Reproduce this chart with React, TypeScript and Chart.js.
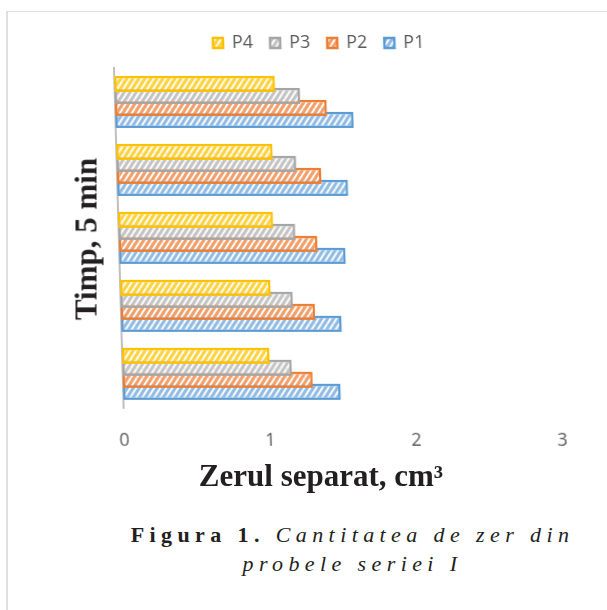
import React, { useEffect, useRef } from 'react';
import { Chart, registerables } from 'chart.js';

Chart.register(...registerables);

// Categories listed from top group to bottom group (Excel puts the first category at the bottom)
const categories = ['5', '4', '3', '2', '1'];
const seriesNames = ['P4', 'P3', 'P2', 'P1'];
const p4Values = [1.10, 1.07, 1.06, 1.03, 1.01];
const p3Values = [1.27, 1.23, 1.21, 1.18, 1.16];
const p2Values = [1.45, 1.40, 1.36, 1.33, 1.30];
const p1Values = [1.63, 1.58, 1.55, 1.51, 1.49];
const xTickValues = [0, 1, 2, 3];

const lineColors = ['#FFC000', '#A5A5A5', '#ED7D31', '#5B9BD5'];
const tintColors = ['#FFD23F', '#C4C4C4', '#F3A06C', '#92BBE3'];

function makePattern(tint: string) {
  const w = 6;
  const h = 9;
  const c = document.createElement('canvas');
  c.width = w;
  c.height = h;
  const g = c.getContext('2d') as CanvasRenderingContext2D;
  g.fillStyle = tint;
  g.fillRect(0, 0, w, h);
  g.strokeStyle = '#ffffff';
  g.lineWidth = 1.9;
  g.beginPath();
  g.moveTo(0, h);
  g.lineTo(w, 0);
  g.moveTo(-w, h);
  g.lineTo(0, 0);
  g.moveTo(w, h);
  g.lineTo(2 * w, 0);
  g.stroke();
  return g.createPattern(c, 'repeat') as CanvasPattern;
}

const legendGap = {
  id: 'legendGap',
  afterInit(chart: any) {
    const lg = chart.legend;
    if (lg && !lg.__gap) {
      const orig = lg.fit;
      lg.fit = function () {
        orig.call(this);
        this.height += 6;
      };
      lg.__gap = true;
    }
  },
};

export default function App() {
  const ref = useRef<HTMLCanvasElement | null>(null);

  useEffect(() => {
    if (!ref.current) return;
    const allValues = [p4Values, p3Values, p2Values, p1Values];
    const datasets = seriesNames.map((name, i) => ({
      label: name,
      data: allValues[i],
      backgroundColor: makePattern(tintColors[i]),
      borderColor: lineColors[i],
      borderWidth: 2.5,
      borderSkipped: false,
      barPercentage: 1.33,
      categoryPercentage: 0.706,
    }));
    const tickFont = { family: 'Open Sans', size: 18 };
    const chart = new Chart(ref.current, {
      type: 'bar',
      data: { labels: categories, datasets },
      options: {
        indexAxis: 'y',
        animation: false,
        responsive: false,
        maintainAspectRatio: false,
        layout: { padding: { left: 97, right: 45, top: 17, bottom: 0 } },
        plugins: {
          legend: {
            position: 'top',
            labels: {
              boxWidth: 10,
              boxHeight: 10,
              padding: 17,
              color: '#595959',
              font: tickFont,
            },
          },
          tooltip: { enabled: false },
        },
        scales: {
          x: {
            min: 0,
            max: 3,
            afterBuildTicks: (s: any) => {
              s.ticks = xTickValues.map((v) => ({ value: v }));
            },
            ticks: { padding: 22, color: '#595959', font: tickFont },
            grid: { display: false, drawTicks: false },
            border: { display: false },
            afterFit: (s: any) => {
              s.height = 52;
            },
          },
          y: {
            ticks: { display: false },
            grid: { display: false, drawTicks: false },
            border: { display: true, color: '#BFBFBF', width: 2 },
            afterFit: (s: any) => {
              s.width = 27;
            },
          },
        },
      } as any,
      plugins: [legendGap],
    });
    return () => chart.destroy();
  }, []);

  const serif = '"Liberation Serif", "Times New Roman", serif';

  return (
    <div style={{ position: 'absolute', left: 0, top: 0, width: 607, height: 610, overflow: 'hidden', background: '#ffffff' }}>
      <div style={{ position: 'absolute', left: 6, top: 11, width: 700, height: 700, borderLeft: '2px solid #E0E0E0', borderTop: '1px solid #E0E0E0' }} />
      <canvas
        ref={ref}
        width={607}
        height={460}
        style={{ position: 'absolute', left: 0, top: 0, width: 607, height: 460, transform: 'skewX(1.63deg)', transformOrigin: '0px 420px' }}
      />
      <div
        style={{
          position: 'absolute', left: 86, top: 239, transform: 'translate(-50%, -50%) rotate(-90deg)',
          fontFamily: serif, fontWeight: 'bold', fontSize: 31, lineHeight: '31px', color: '#231F20', whiteSpace: 'nowrap',
        }}
      >
        Timp, 5 min
      </div>
      <div
        style={{
          position: 'absolute', left: 171, top: 460, width: 300, textAlign: 'center',
          fontFamily: serif, fontWeight: 'bold', fontSize: 31, lineHeight: '31px', color: '#231F20', whiteSpace: 'nowrap',
        }}
      >
        Zerul separat, cm³
      </div>
      <div
        style={{
          position: 'absolute', left: 52.5, top: 520, width: 600, textAlign: 'center',
          fontFamily: serif, fontSize: 22, lineHeight: '29px', letterSpacing: 5.4, color: '#231F20', whiteSpace: 'nowrap',
        }}
      >
        <span style={{ fontWeight: 'bold' }}>Figura 1.</span> <span style={{ fontStyle: 'italic' }}>Cantitatea de zer din</span>
        <br />
        <span style={{ fontStyle: 'italic' }}>probele seriei I</span>
      </div>
    </div>
  );
}
